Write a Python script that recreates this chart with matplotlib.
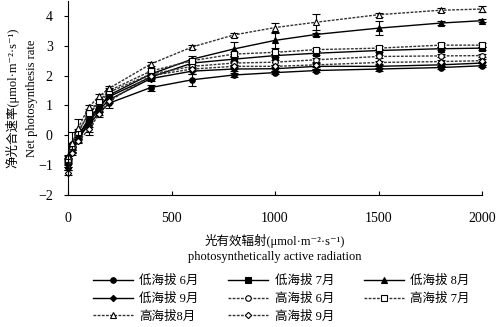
import matplotlib
matplotlib.use('Agg')
import matplotlib.pyplot as plt

plt.rcParams['font.family'] = ['Liberation Serif', 'Noto Sans CJK SC', 'DejaVu Serif']
plt.rcParams['font.size'] = 9

# 光强 (µmol·m-2·s-1)
par = [0, 20, 50, 100, 150, 200, 400, 600, 800, 1000, 1200, 1500, 1800, 2000]

# 净光合速率
low_6 = [-0.85, -0.45, -0.10, 0.35, 0.75, 1.08, 1.60, 1.86, 2.02, 2.10, 2.17, 2.22, 2.27, 2.33]
low_7 = [-0.90, -0.40, 0.00, 0.55, 0.95, 1.30, 1.95, 2.42, 2.55, 2.67, 2.75, 2.84, 2.90, 2.92]
low_8 = [-1.00, -0.50, -0.05, 0.50, 0.95, 1.35, 2.05, 2.55, 2.89, 3.18, 3.38, 3.59, 3.76, 3.84]
low_9 = [-1.10, -0.55, -0.15, 0.45, 0.85, 1.20, 1.90, 2.15, 2.22, 2.23, 2.31, 2.31, 2.36, 2.42]
high_6 = [-0.75, -0.30, 0.15, 0.70, 1.10, 1.45, 2.05, 2.31, 2.42, 2.45, 2.53, 2.64, 2.66, 2.67]
high_7 = [-0.80, -0.35, 0.10, 0.75, 1.15, 1.50, 2.15, 2.50, 2.72, 2.78, 2.87, 2.92, 3.02, 3.02]
high_8 = [-0.70, -0.25, 0.25, 0.95, 1.30, 1.58, 2.39, 2.96, 3.36, 3.61, 3.79, 4.04, 4.19, 4.23]
high_9 = [-1.25, -0.60, -0.20, 0.20, 0.70, 1.15, 2.00, 2.22, 2.31, 2.31, 2.36, 2.44, 2.47, 2.50]

# 标准误
err_low_6 = [0.05, 0.05, 0.06, 0.35, 0.08, 0.15, 0.10, 0.20, 0.06, 0.05, 0.06, 0.05, 0.05, 0.04]
err_low_7 = [0.06, 0.05, 0.06, 0.08, 0.08, 0.10, 0.08, 0.08, 0.08, 0.06, 0.06, 0.05, 0.05, 0.05]
err_low_8 = [0.06, 0.06, 0.06, 0.08, 0.08, 0.10, 0.10, 0.10, 0.22, 0.25, 0.06, 0.24, 0.06, 0.04]
err_low_9 = [0.05, 0.05, 0.06, 0.08, 0.08, 0.08, 0.08, 0.08, 0.06, 0.06, 0.08, 0.06, 0.05, 0.05]
err_high_6 = [0.05, 0.05, 0.06, 0.08, 0.08, 0.08, 0.08, 0.06, 0.06, 0.08, 0.06, 0.05, 0.05, 0.05]
err_high_7 = [0.05, 0.05, 0.06, 0.08, 0.08, 0.08, 0.10, 0.06, 0.06, 0.06, 0.06, 0.06, 0.06, 0.06]
err_high_8 = [0.05, 0.35, 0.30, 0.08, 0.08, 0.06, 0.08, 0.06, 0.06, 0.15, 0.27, 0.06, 0.06, 0.10]
err_high_9 = [0.08, 0.05, 0.06, 0.08, 0.08, 0.08, 0.08, 0.06, 0.06, 0.06, 0.06, 0.05, 0.05, 0.05]

series = [
    ('低海拔 6月', low_6, err_low_6, 'o', 'black', '-'),
    ('低海拔 7月', low_7, err_low_7, 's', 'black', '-'),
    ('低海拔 8月', low_8, err_low_8, '^', 'black', '-'),
    ('低海拔 9月', low_9, err_low_9, 'D', 'black', '-'),
    ('高海拔 6月', high_6, err_high_6, 'o', 'white', (0, (2, 1))),
    ('高海拔 7月', high_7, err_high_7, 's', 'white', (0, (2, 1))),
    ('高海拔8月', high_8, err_high_8, '^', 'white', (0, (2, 1))),
    ('高海拔 9月', high_9, err_high_9, 'D', 'white', (0, (2, 1))),
]

fig = plt.figure(figsize=(4.96, 3.27), dpi=100)
ax = fig.add_axes([0.1371, 0.4037, 0.8347, 0.5933])

handles = {}
for name, y, e, m, fc, ls in series:
    msize = 3.2 if m == 'D' else 4
    ax.errorbar(par, y, yerr=e, fmt='none', ecolor='black', elinewidth=0.8,
                capsize=3, capthick=0.8, clip_on=False)
    line, = ax.plot(par, y, linestyle=ls, color='#333333' if fc == 'white' else 'black',
                    linewidth=1.0, marker=m, markersize=msize,
                    markerfacecolor=fc, markeredgecolor='black', markeredgewidth=0.8,
                    clip_on=False, label=name)
    handles[name] = line

ax.set_xlim(0, 2000)
ax.set_ylim(-2, 4.5)
ax.set_xticks([0, 500, 1000, 1500, 2000])
ax.set_yticks([-2, -1, 0, 1, 2, 3, 4])
ax.spines['top'].set_visible(False)
ax.spines['right'].set_visible(False)
ax.tick_params(axis='x', direction='in', length=3, pad=12, labelsize=10)
ax.tick_params(axis='y', direction='out', length=3, pad=8, labelsize=10)

ax.set_ylabel('净光合速率(μmol·m⁻²·s⁻¹)\nNet photosynthesis rate', linespacing=1.75)
ax.yaxis.set_label_coords(-0.072, 0.5)
ax.set_xlabel('光有效辐射(μmol·m⁻²·s⁻¹)\nphotosynthetically active radiation', linespacing=1.35)
ax.xaxis.set_label_coords(0.5, -0.2)

order = ['低海拔 6月', '低海拔 9月', '高海拔8月', '低海拔 7月', '高海拔 6月',
         '高海拔 9月', '低海拔 8月', '高海拔 7月']
fig.legend([handles[k] for k in order], order, ncol=3, loc='upper center',
           bbox_to_anchor=(0.567, 0.178), frameon=False, handlelength=3.2,
           handletextpad=0.5, columnspacing=2.4, labelspacing=0.45, borderpad=0)

fig.savefig('out.png', dpi=100)
